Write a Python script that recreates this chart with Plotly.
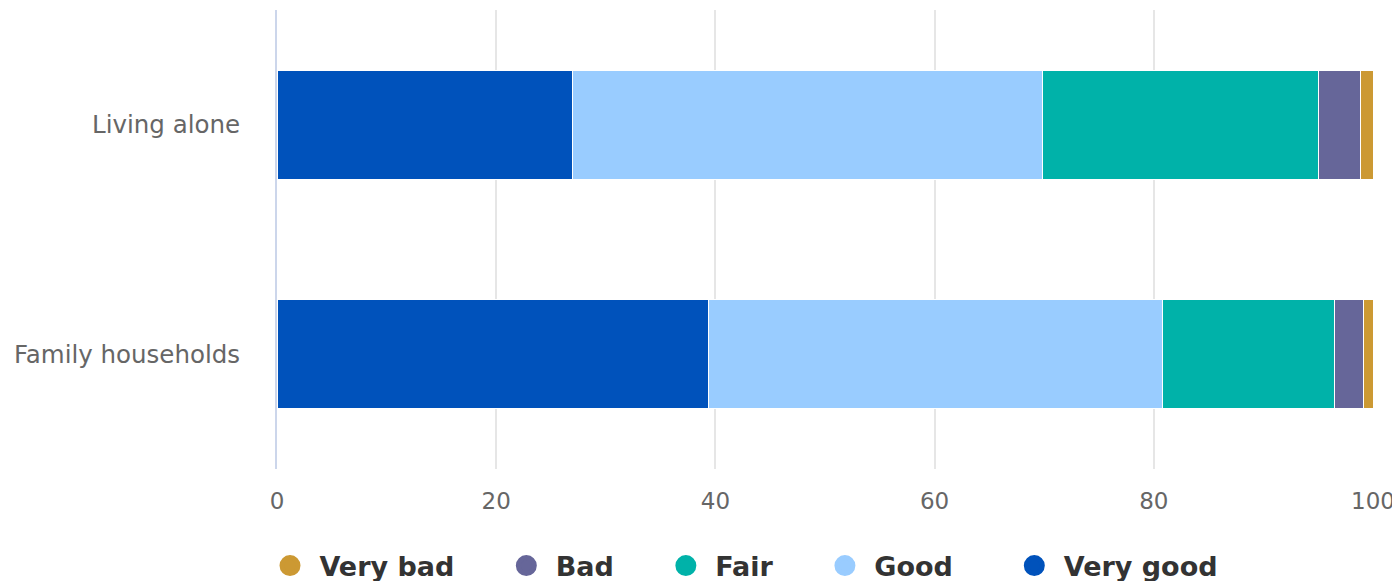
import plotly.graph_objects as go

categories = ["Family households", "Living alone"]
series_names = ["Very good", "Good", "Fair", "Bad", "Very bad"]
very_good = [39.4, 27.0]
good = [41.4, 42.8]
fair = [15.7, 25.2]
bad = [2.6, 3.9]
very_bad = [0.9, 1.1]
x_ticks = [0, 20, 40, 60, 80, 100]

colors = {
    "Very good": "#0052bb",
    "Good": "#99ccff",
    "Fair": "#00b2a9",
    "Bad": "#666699",
    "Very bad": "#cc9933",
}
values = {
    "Very good": very_good,
    "Good": good,
    "Fair": fair,
    "Bad": bad,
    "Very bad": very_bad,
}
trailing = {"Very good": 5, "Good": 6, "Fair": 5, "Bad": 5, "Very bad": 5}

NB = "\u00a0"

fig = go.Figure()
for name in series_names:
    fig.add_trace(go.Bar(
        y=categories, x=values[name], name=name, orientation="h",
        marker=dict(color=colors[name], line=dict(color="white", width=1)),
        showlegend=False,
    ))
# legend entries with round symbols
for name in series_names:
    fig.add_trace(go.Scatter(
        x=[None], y=[None], mode="markers", name=NB + name + NB * trailing[name],
        marker=dict(color=colors[name], size=16, symbol="circle",
                    line=dict(color=colors[name], width=5)),
        showlegend=True,
    ))

W, H = 1392, 573
fig.update_layout(
    width=W, height=H,
    barmode="stack",
    bargap=0.527,
    plot_bgcolor="white", paper_bgcolor="white",
    margin=dict(l=269, r=27, t=2, b=112),
    font=dict(family="DejaVu Sans", color="#666666"),
    legend=dict(
        orientation="h", traceorder="reversed",
        xref="container", x=262 / W, xanchor="left",
        yref="container", y=15 / H, yanchor="middle",
        font=dict(family="DejaVu Sans", size=27, color="#333333", weight="bold"),
        itemsizing="trace",
    ),
)
fig.update_xaxes(
    range=[0, 100], tickvals=x_ticks, showgrid=True, gridcolor="#e6e6e6", gridwidth=2,
    zeroline=False, showline=False, tickfont=dict(size=23, color="#666666"),
    ticklabelstandoff=16, fixedrange=True,
)
fig.update_yaxes(
    categoryorder="array", categoryarray=categories, range=[-0.5, 1.5],
    showline=True, linecolor="#ccd6eb", linewidth=2, showgrid=False,
    tickfont=dict(size=24.5, color="#666666"), ticklabelstandoff=30,
)

fig.write_html("out.html")
